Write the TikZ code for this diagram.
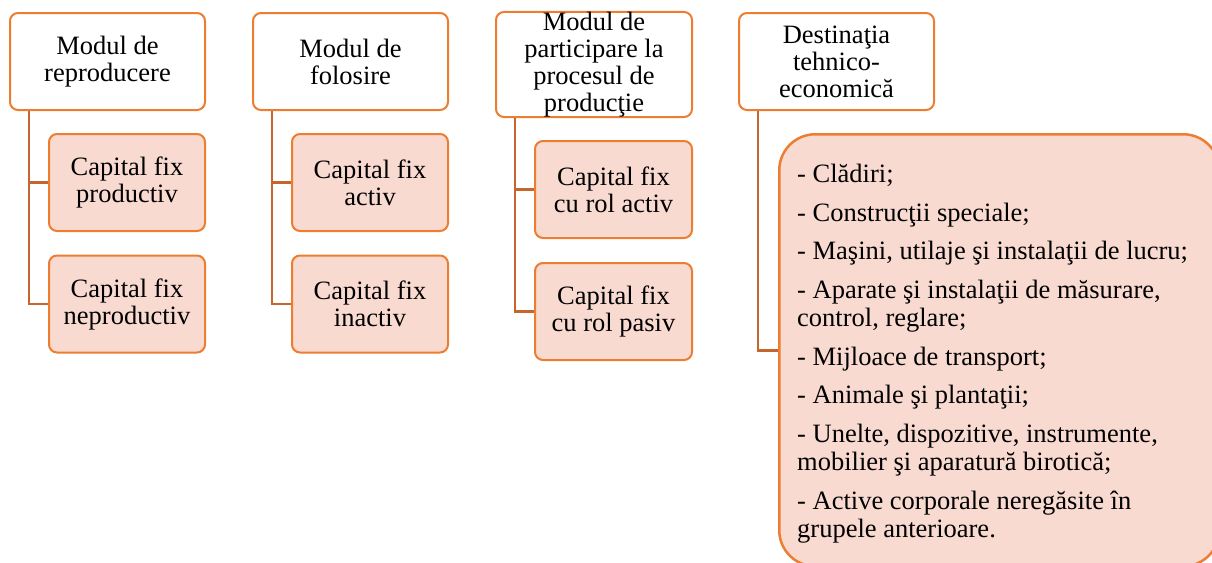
\documentclass[tikz,border=0pt]{standalone}
\usepackage{fontspec}
\setmainfont{Liberation Serif}
\usepackage{tikz}
\usetikzlibrary{calc}
\definecolor{boxorange}{RGB}{237,125,49}
\definecolor{lineorange}{RGB}{196,102,45}
\definecolor{boxpink}{RGB}{248,218,209}
\tikzset{
	headbox/.style={draw=boxorange, line width=2pt, rounded corners=8pt, fill=white, align=center, inner sep=0pt, minimum width=195pt, minimum height=97pt, font=\fontsize{26.5}{27}\selectfont},
	childbox/.style={draw=boxorange, line width=2pt, rounded corners=8pt, fill=boxpink, align=center, inner sep=0pt, minimum width=156pt, minimum height=97pt, font=\fontsize{26.5}{27}\selectfont},
	listbox/.style={draw=boxorange, line width=2.5pt, rounded corners=36pt, fill=boxpink, inner sep=0pt, minimum width=440pt, minimum height=432pt, anchor=north west},
	listtext/.style={align=left, inner sep=0pt, anchor=north west, font=\fontsize{26.5}{28.5}\selectfont},
	branch/.style={draw=lineorange, line width=2.5pt}
}

\begin{document}
\begin{tikzpicture}[x=1pt, y=-1pt]
			%%%%% START %%%%%
			\useasboundingbox (0,0) rectangle (1212,562);
			
			\node[headbox] (hRep) at (107.5, 61.5) {Modul de\\reproducere};
			\node[childbox] (cProd) at (127, 182.5) {Capital fix\\productiv};
			\node[childbox] (cNeprod) at (127, 304) {Capital fix\\neproductiv};
			\draw[branch] ($(hRep.south west)+(20,0)$) |- (cProd.west);
			\draw[branch] ($(hRep.south west)+(20,0)$) |- (cNeprod.west);
			
			\node[headbox] (hFol) at (350.5, 61.5) {Modul de\\folosire};
			\node[childbox] (cAct) at (370, 182.5) {Capital fix\\activ};
			\node[childbox] (cInact) at (370, 304) {Capital fix\\inactiv};
			\draw[branch] ($(hFol.south west)+(20,0)$) |- (cAct.west);
			\draw[branch] ($(hFol.south west)+(20,0)$) |- (cInact.west);
			
			\node[headbox, minimum width=196pt, minimum height=103pt] (hPart) at (594, 64.5) {Modul de\\participare la\\procesul de\\producţie};
			\node[childbox, minimum width=157pt] (cRolAct) at (613.5, 189.5) {Capital fix\\cu rol activ};
			\node[childbox, minimum width=157pt] (cRolPas) at (613.5, 311.5) {Capital fix\\cu rol pasiv};
			\draw[branch] ($(hPart.south west)+(20,0)$) |- (cRolAct.west);
			\draw[branch] ($(hPart.south west)+(20,0)$) |- (cRolPas.west);
			
			\node[headbox] (hDest) at (836.5, 61.5) {Destinaţia\\tehnico-\\economică};
			\node[listbox] (lista) at (778, 133) {};
			\draw[branch] ($(hDest.south west)+(20,0)$) |- (lista.west);
			\node[listtext] (items) at ($(lista.north west)+(19,31)$) {%
				- Clădiri;\\[10pt]
				- Construcţii speciale;\\[10pt]
				- Maşini, utilaje şi instalaţii de lucru;\\[10pt]
				- Aparate şi instalaţii de măsurare,\\
				control, reglare;\\[10pt]
				- Mijloace de transport;\\[10pt]
				- Animale şi plantaţii;\\[10pt]
				- Unelte, dispozitive, instrumente,\\
				mobilier şi aparatură birotică;\\[10pt]
				- Active corporale neregăsite în\\
				grupele anterioare.};
			
			%%%%% END %%%%%
\end{tikzpicture}
\end{document}
